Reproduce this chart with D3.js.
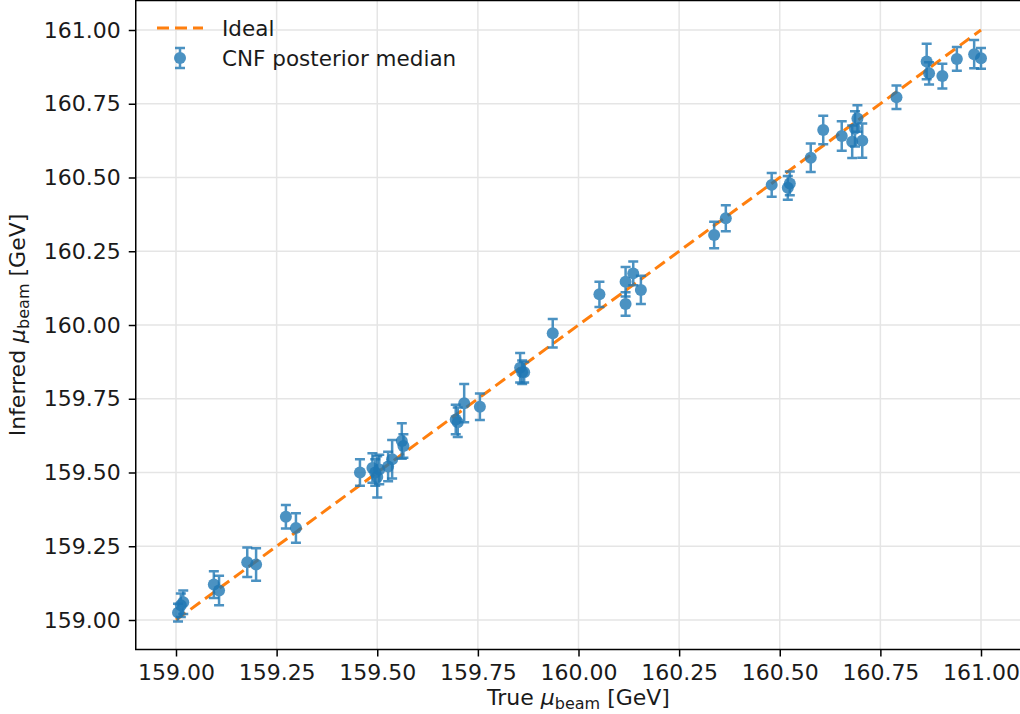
<!DOCTYPE html>
<html>
<head>
<meta charset="utf-8">
<script src="https://cdn.jsdelivr.net/npm/d3@7"></script>
<style>
  body { margin: 0; background: #fff; }
  text { font-family: "DejaVu Sans", sans-serif; fill: #1a1a1a; }
</style>
</head>
<body>
<div id="my_dataviz"></div>
<script>
  // true beam energy of each test sample
  var trueMu = [159.005, 159.012, 159.018, 159.094, 159.107, 159.177, 159.199, 159.273, 159.298,
    159.457, 159.488, 159.495, 159.500, 159.505, 159.527, 159.537, 159.561, 159.565,
    159.695, 159.700, 159.716, 159.755, 159.855, 159.860, 159.865, 159.936,
    160.052, 160.117, 160.117, 160.136, 160.155, 160.337, 160.366,
    160.480, 160.520, 160.525, 160.577, 160.608, 160.654, 160.680, 160.687, 160.693, 160.705,
    160.790, 160.865, 160.871, 160.904, 160.940, 160.983, 161.000];

  // CNF posterior median
  var medianMu = [159.025, 159.050, 159.060, 159.120, 159.100, 159.196, 159.188, 159.350, 159.312,
    159.500, 159.515, 159.500, 159.485, 159.510, 159.520, 159.545, 159.607, 159.590,
    159.680, 159.670, 159.735, 159.723, 159.855, 159.840, 159.840, 159.972,
    160.104, 160.147, 160.071, 160.175, 160.119, 160.305, 160.362,
    160.475, 160.465, 160.480, 160.567, 160.661, 160.641, 160.621, 160.665, 160.700, 160.625,
    160.772, 160.893, 160.853, 160.844, 160.902, 160.918, 160.904];

  // half width of the error bars
  var errMu = [0.030, 0.040, 0.040, 0.045, 0.050, 0.050, 0.055, 0.040, 0.050,
    0.045, 0.050, 0.045, 0.070, 0.050, 0.050, 0.065, 0.060, 0.040,
    0.050, 0.050, 0.065, 0.045, 0.050, 0.040, 0.035, 0.048,
    0.043, 0.050, 0.040, 0.040, 0.048, 0.045, 0.044,
    0.040, 0.040, 0.040, 0.048, 0.048, 0.050, 0.055, 0.060, 0.045, 0.058,
    0.040, 0.060, 0.038, 0.042, 0.040, 0.048, 0.035];

  // ideal line end points
  var idealX = [159, 161];

  var ticks = [159.00, 159.25, 159.50, 159.75, 160.00, 160.25, 160.50, 160.75, 161.00];

  var blue = "#1f77b4", orange = "#ff7f0e";

  var W = 1020, H = 714;

  var svg = d3.select("#my_dataviz")
    .append("svg")
      .attr("width", W)
      .attr("height", H);

  // scales (axes limits include matplotlib's 5% margin)
  var x = d3.scaleLinear().domain([158.9, 161.1]).range([135.75, 1021.25]);
  var y = d3.scaleLinear().domain([158.9, 161.1]).range([649.5, 0.5]);

  var x0 = x.range()[0], x1 = x.range()[1], y0 = y.range()[0], y1 = y.range()[1];

  // grid
  svg.append("g").selectAll("line").data(ticks).enter().append("line")
    .attr("x1", function(d) { return x(d); }).attr("x2", function(d) { return x(d); })
    .attr("y1", y1).attr("y2", y0)
    .attr("stroke", "#e5e5e5").attr("stroke-width", 1.5);
  svg.append("g").selectAll("line").data(ticks).enter().append("line")
    .attr("y1", function(d) { return y(d); }).attr("y2", function(d) { return y(d); })
    .attr("x1", x0).attr("x2", x1)
    .attr("stroke", "#e5e5e5").attr("stroke-width", 1.5);

  // ideal line
  svg.append("line")
    .attr("x1", x(idealX[0])).attr("y1", y(idealX[0]))
    .attr("x2", x(idealX[1])).attr("y2", y(idealX[1]))
    .attr("stroke", orange).attr("stroke-width", 3)
    .attr("stroke-dasharray", "12,6");

  // error bars + markers, each point drawn with its own alpha
  var pts = trueMu.map(function(t, i) { return {x: t, y: medianMu[i], e: errMu[i]}; });
  var g = svg.append("g").selectAll("g").data(pts).enter().append("g")
    .attr("opacity", 0.8);
  g.append("path")
    .attr("d", function(d) {
      var px = x(d.x), top = y(d.y + d.e), bot = y(d.y - d.e);
      return "M" + px + "," + top + "V" + bot +
        "M" + (px - 5) + "," + top + "H" + (px + 5) +
        "M" + (px - 5) + "," + bot + "H" + (px + 5);
    })
    .attr("stroke", blue).attr("stroke-width", 2.5).attr("fill", "none");
  g.append("circle")
    .attr("cx", function(d) { return x(d.x); })
    .attr("cy", function(d) { return y(d.y); })
    .attr("r", 6)
    .attr("fill", blue);

  // axes
  var xAxis = d3.axisBottom(x).tickValues(ticks).tickFormat(d3.format(".2f"))
    .tickSize(7).tickPadding(8);
  var yAxis = d3.axisLeft(y).tickValues(ticks).tickFormat(d3.format(".2f"))
    .tickSize(7).tickPadding(8);

  var gx = svg.append("g").attr("transform", "translate(0," + y0 + ")").call(xAxis);
  var gy = svg.append("g").attr("transform", "translate(" + x0 + ",0)").call(yAxis);
  [gx, gy].forEach(function(a) {
    a.select(".domain").remove();
    a.selectAll("line").attr("stroke", "#000").attr("stroke-width", 1.5);
    a.selectAll("text").attr("font-size", 22).attr("fill", "#1a1a1a")
      .attr("font-family", "DejaVu Sans, sans-serif");
  });

  // frame
  svg.append("rect")
    .attr("x", x0).attr("y", y1).attr("width", x1 - x0).attr("height", y0 - y1)
    .attr("fill", "none").attr("stroke", "#000").attr("stroke-width", 1.5);

  // axis labels
  var xl = svg.append("text").attr("x", (x0 + x1) / 2).attr("y", 705)
    .attr("text-anchor", "middle").attr("font-size", 22);
  xl.append("tspan").text("True ");
  xl.append("tspan").attr("font-style", "italic").text("μ");
  xl.append("tspan").attr("font-size", 16).attr("dy", 4).text("beam");
  xl.append("tspan").attr("dy", -4).text(" [GeV]");

  var yl = svg.append("text")
    .attr("transform", "translate(25," + ((y0 + y1) / 2) + ") rotate(-90)")
    .attr("text-anchor", "middle").attr("font-size", 22);
  yl.append("tspan").text("Inferred ");
  yl.append("tspan").attr("font-style", "italic").text("μ");
  yl.append("tspan").attr("font-size", 16).attr("dy", 4).text("beam");
  yl.append("tspan").attr("dy", -4).text(" [GeV]");

  // legend
  var leg = svg.append("g");
  leg.append("line")
    .attr("x1", 157).attr("x2", 203).attr("y1", 28).attr("y2", 28)
    .attr("stroke", orange).attr("stroke-width", 3).attr("stroke-dasharray", "12,6");
  leg.append("text").attr("x", 222).attr("y", 35.5).attr("font-size", 21.5).text("Ideal");
  var lm = leg.append("g").attr("opacity", 0.8);
  lm.append("path")
    .attr("d", "M180,48V68M175,48H185M175,68H185")
    .attr("stroke", blue).attr("stroke-width", 2.5).attr("fill", "none");
  lm.append("circle").attr("cx", 180).attr("cy", 58).attr("r", 6).attr("fill", blue);
  leg.append("text").attr("x", 222).attr("y", 65.5).attr("font-size", 21.5).text("CNF posterior median");
</script>
</body>
</html>
